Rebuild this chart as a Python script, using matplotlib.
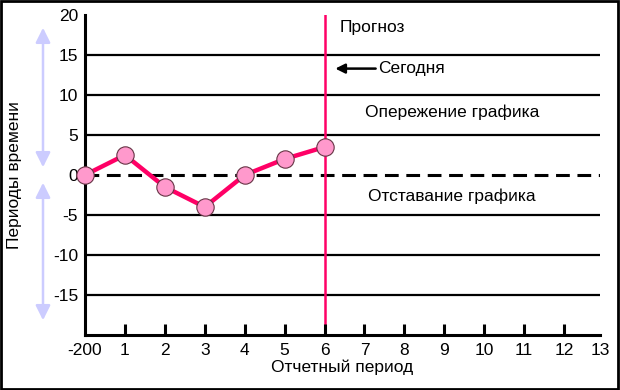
import matplotlib.pyplot as plt
from matplotlib.patches import Rectangle, FancyArrowPatch

plt.rcParams['font.family'] = ['Liberation Sans', 'DejaVu Sans']

# data
periods = [0, 1, 2, 3, 4, 5, 6]
variance = [0, 2.5, -1.5, -4, 0, 2, 3.5]
today = 6

x_ticks = [0, 1, 2, 3, 4, 5, 6, 7, 8, 9, 10, 11, 12, 12.9]
x_labels = ['-200', '1', '2', '3', '4', '5', '6', '7', '8', '9', '10', '11', '12', '13']
y_ticks = [-15, -10, -5, 0, 5, 10, 15, 20]
grid_levels = [-15, -10, -5, 5, 10, 15]

LINE = '#FF0066'
MARK = '#FF99CC'
ARROW = '#CCCCFF'

fig = plt.figure(figsize=(6.2, 3.9), dpi=100)
ax = fig.add_axes([85 / 620, 55 / 390, 515 / 620, 320 / 390])
ax.set_xlim(0, 12.9)
ax.set_ylim(-20, 20)

for lvl in grid_levels:
    ax.axhline(lvl, color='black', linewidth=1.6, zorder=1)
ax.axhline(0, color='black', linewidth=2.2, linestyle=(0, (4.5, 2.5)), zorder=1)

ax.axvline(today, color=LINE, linewidth=1.8, zorder=1.5)

ax.plot(periods, variance, color=LINE, linewidth=3.2, marker='o',
        markersize=12.5, markerfacecolor=MARK, markeredgecolor='#663344',
        markeredgewidth=0.8, clip_on=False, zorder=3)

for side in ['top', 'right']:
    ax.spines[side].set_visible(False)
ax.spines['left'].set_linewidth(2.2)
ax.spines['bottom'].set_linewidth(2.2)

ax.set_xticks(x_ticks)
ax.set_xticklabels(x_labels)
ax.tick_params(axis='x', direction='in', length=8, width=2.2, pad=6, labelsize=12.5)
ax.xaxis.get_major_ticks()[0].tick1line.set_visible(False)
ax.xaxis.get_major_ticks()[-1].tick1line.set_visible(False)

ax.set_yticks(y_ticks)
ax.set_yticklabels([str(v) for v in y_ticks])
ax.tick_params(axis='y', length=0, pad=5, labelsize=12.5)

ax.set_xlabel('Отчетный период', fontsize=12.5, labelpad=1)

ax.text(6.38, 18.5, 'Прогноз', fontsize=12.5, va='center', ha='left')
ax.annotate('', xy=(6.2, 13.3), xytext=(7.35, 13.3),
            arrowprops=dict(arrowstyle='-|>', color='black', lw=1.8,
                            mutation_scale=14))
ax.text(7.35, 13.3, 'Сегодня', fontsize=12.5, va='center', ha='left')
ax.text(9.2, 7.8, 'Опережение графика', fontsize=12.5, va='center', ha='center')
ax.text(9.2, -2.7, 'Отставание графика', fontsize=12.5, va='center', ha='center')

# lavender double arrows next to the y label
fig.text(15 / 620, 1 - 175 / 390, 'Периоды времени', rotation=90,
         fontsize=12.5, va='center', ha='center')
for y0, y1 in [(25, 170), (180, 323)]:
    fig.add_artist(FancyArrowPatch(
        (43 / 620, 1 - y0 / 390), (43 / 620, 1 - y1 / 390),
        transform=fig.transFigure, arrowstyle='<|-|>', color=ARROW,
        lw=1.8, mutation_scale=22))

fig.add_artist(Rectangle((0.002, 0.003), 0.995, 0.994, transform=fig.transFigure,
                         fill=False, edgecolor='black', linewidth=2))

fig.savefig('out.png', dpi=100)
